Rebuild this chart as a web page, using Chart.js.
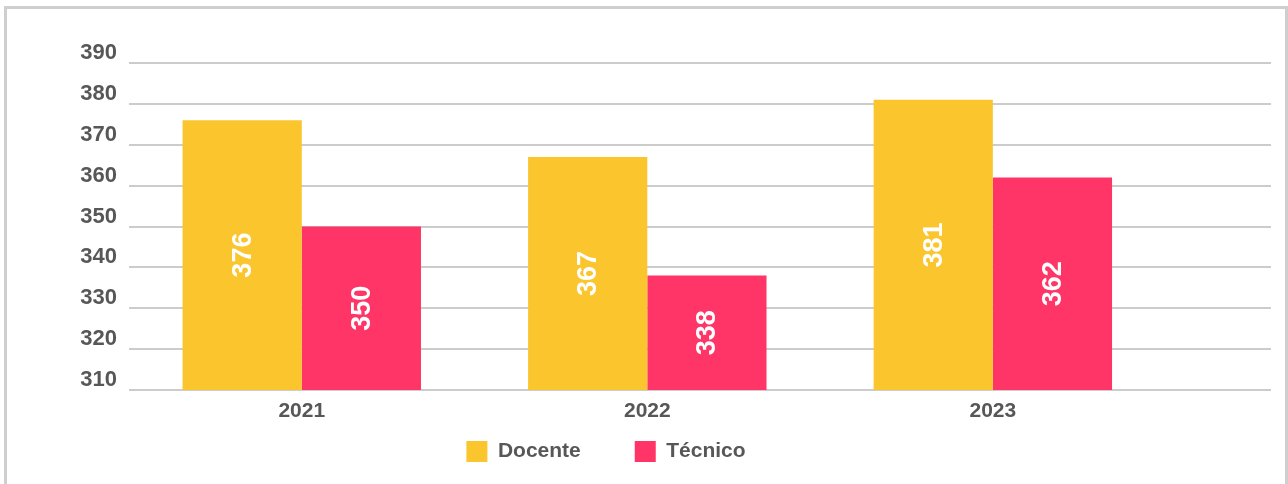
<!DOCTYPE html>
<html>
<head>
<meta charset="utf-8">
<script src="https://cdn.jsdelivr.net/npm/chart.js@4.4.1/dist/chart.umd.min.js"></script>
<style>
  body { margin: 0; background: #fff; }
  #box {
    position: absolute; left: 4px; top: 6px;
    width: 1278px; height: 500px;
    border: 3px solid #cfcfcf;
  }
  #grafico { display: block; }
</style>
</head>
<body>
<div id="box"><canvas id="grafico" width="1278" height="475"></canvas></div>
<script>
var anos = ["2021", "2022", "2023"];
var docente = [376, 367, 381];
var tecnico = [350, 338, 362];
var yTicks = [310, 320, 330, 340, 350, 360, 370, 380, 390];

var cinza = '#575757';
var fonte = "'Liberation Sans', Arial, sans-serif";

// rotulos brancos, girados, no meio de cada barra
var rotulosBarras = {
    id: 'rotulosBarras',
    afterDatasetsDraw: function (chart) {
        var ctx = chart.ctx;
        var series = [docente, tecnico];
        var fundo = chart.chartArea.bottom;
        series.forEach(function (valores, d) {
            chart.getDatasetMeta(d).data.forEach(function (bar, i) {
                var p = bar.getProps(['x', 'y', 'base'], true);
                var meio = (p.y + Math.min(p.base, fundo)) / 2;
                ctx.save();
                ctx.translate(p.x, meio);
                ctx.rotate(-Math.PI / 2);
                ctx.fillStyle = '#ffffff';
                ctx.font = 'bold 27px ' + fonte;
                ctx.textAlign = 'center';
                ctx.textBaseline = 'middle';
                ctx.fillText(String(valores[i]), 0, 1);
                ctx.restore();
            });
        });
    }
};

// legenda um pouco deslocada, como no original
var ajusteLegenda = {
    id: 'ajusteLegenda',
    afterUpdate: function (chart) {
        var lg = chart.legend;
        lg.left -= 33;
        lg.right -= 33;
        lg.top = chart.chartArea.bottom - 3;
    }
};

new Chart(document.getElementById('grafico').getContext('2d'), {
    type: 'bar',
    data: {
        datasets: [{
            label: 'Docente',
            data: docente.map(function (v, i) { return { x: i, y: v }; }),
            backgroundColor: '#FBC52E',
            borderWidth: 0,
            categoryPercentage: 0.69,
            barPercentage: 1
        }, {
            label: 'Técnico',
            data: tecnico.map(function (v, i) { return { x: i, y: v }; }),
            backgroundColor: '#FE3566',
            borderWidth: 0,
            categoryPercentage: 0.69,
            barPercentage: 1
        }]
    },
    options: {
        responsive: false,
        animation: false,
        layout: { padding: { top: 54, right: 14, left: 0, bottom: 0 } },
        plugins: {
            tooltip: { enabled: false },
            legend: {
                position: 'bottom',
                maxHeight: 54,
                labels: {
                    boxWidth: 21,
                    boxHeight: 21,
                    padding: 54,
                    color: cinza,
                    font: { family: fonte, size: 21, weight: 'bold' }
                }
            }
        },
        scales: {
            x: {
                type: 'linear',
                offset: false,
                min: -0.5,
                max: 2.805,
                grid: { display: false },
                border: { display: false },
                afterBuildTicks: function (scale) {
                    scale.ticks = anos.map(function (a, i) { return { value: i }; });
                },
                afterFit: function (scale) { scale.height = 40; },
                ticks: {
                    autoSkip: false,
                    maxRotation: 0,
                    padding: 1,
                    color: cinza,
                    font: { family: fonte, size: 21, weight: 'bold' },
                    callback: function (v) { return anos[v]; }
                }
            },
            y: {
                min: yTicks[0],
                max: yTicks[yTicks.length - 1],
                afterFit: function (scale) { scale.width = 122; },
                grid: { color: '#cccccc', lineWidth: 2, drawTicks: false },
                border: { display: false },
                ticks: {
                    stepSize: 10,
                    padding: 12,
                    labelOffset: -10,
                    color: cinza,
                    font: { family: fonte, size: 22, weight: 'bold' }
                }
            }
        }
    },
    plugins: [rotulosBarras, ajusteLegenda]
});
</script>
</body>
</html>
